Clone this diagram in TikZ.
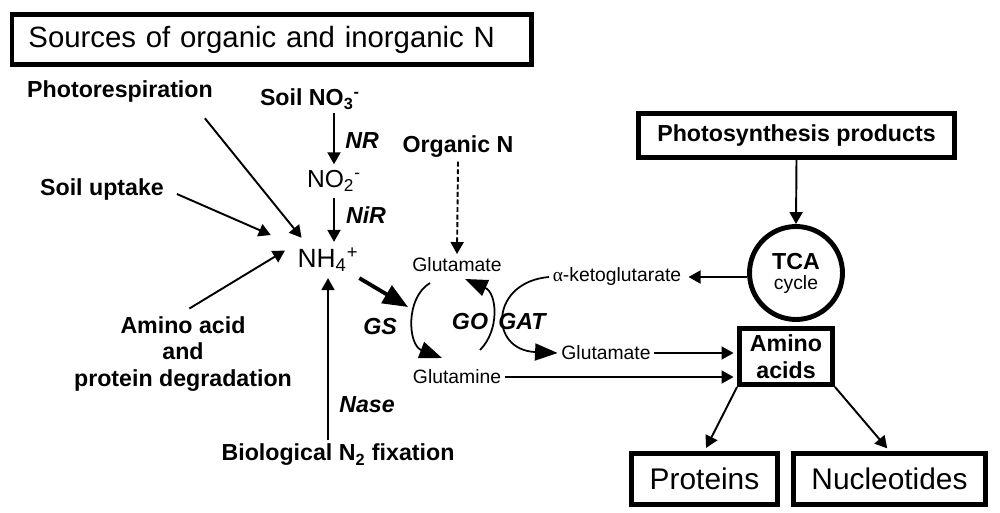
\documentclass[tikz,border=0pt]{standalone}
\usepackage{fontspec}
\setmainfont{Liberation Sans}
\newfontfamily\greekfont{Liberation Serif}
\usetikzlibrary{arrows.meta}

\begin{document}
\begin{tikzpicture}[x=0.02cm,y=-0.02cm,
    lbl/.style={font=\fontsize{13.2}{15.3}\selectfont\bfseries,inner sep=2pt},
    enz/.style={font=\fontsize{13.2}{15.3}\selectfont\bfseries\itshape,inner sep=2pt},
    met/.style={font=\fontsize{11}{13}\selectfont,inner sep=2pt},
    box/.style={draw,line width=2.8pt,inner sep=2pt},
    arr/.style={line width=1.1pt,-{Triangle[length=0.24cm,width=0.26cm]}},
    bigarr/.style={line width=1pt,-{Triangle[length=0.45cm,width=0.34cm]}}]
        \useasboundingbox (0,0) rectangle (1000,513);
        %% Sources
        \node[box,anchor=west,text width=9.74cm,inner xsep=0.33cm,minimum height=1.0cm,align=left,font=\fontsize{16.7}{20}\selectfont] (sources) at (9.5,39.5) {Sources of organic and inorganic N};
        \node[lbl] (photoresp) at (120,92) {Photorespiration};
        \node[lbl] (soilno3) at (310,99) {Soil NO\textsubscript{3}\textsuperscript{-}};
        \node[lbl] (soilup) at (102,190) {Soil uptake};
        \node[lbl,align=center] (aadeg) at (183,354) {Amino acid\\and\\protein degradation};
        \node[lbl] (bio) at (338,455) {Biological N\textsubscript{2} fixation};
        \node[lbl] (orgn) at (458,147) {Organic N};
        %% inorganic N
        \node[font=\fontsize{14}{16}\selectfont] (no2) at (334,181) {NO\textsubscript{2}\textsuperscript{-}};
        \node[font=\fontsize{15}{17}\selectfont] (nh4) at (328,260) {NH\textsubscript{4}\textsuperscript{+}};
        \node[enz] (nr) at (362,141) {NR};
        \node[enz] (nir) at (366,215) {NiR};
        \node[enz] (nase) at (367,405) {Nase};
        %% GS/GOGAT
        \node[met] (glu1) at (457,265) {Glutamate};
        \node[met] (gln) at (457,377) {Glutamine};
        \node[enz] (gs) at (380,327) {GS};
        \node[enz] (go) at (470,322) {GO};
        \node[enz] (gat) at (522,322) {GAT};
        \node[met] (akg) at (617,277) {{\greekfont α}-ketoglutarate};
        \node[met] (glu2) at (606,353) {Glutamate};
        \coordinate (gsin) at (408,307);
        \coordinate (gs1) at (430,283);
        \coordinate (gs2) at (442,358);
        \coordinate (go1) at (480,350);
        \coordinate (go2) at (465,279);
        %% carbon side
        \node[box,lbl,minimum width=6.32cm,minimum height=0.88cm] (photosyn) at (796.5,135.5) {Photosynthesis products};
        \node[box,circle,minimum size=1.86cm,inner sep=0pt,align=center,font=\fontsize{11}{11.3}\selectfont] (tca) at (796,273) {{\fontsize{13.2}{11.3}\selectfont\bfseries TCA}\\cycle};
        \node[box,lbl,align=center,minimum width=1.86cm,minimum height=1.12cm] (aa) at (786,356.5) {Amino\\acids};
        \node[box,minimum width=2.92cm,minimum height=1.02cm,font=\fontsize{17}{20}\selectfont] (prot) at (704.5,479) {Proteins};
        \node[box,minimum width=3.84cm,minimum height=1.02cm,font=\fontsize{17}{20}\selectfont] (nuc) at (889.5,479) {Nucleotides};
        %% arrows into NH4+
        \draw[arr,shorten <=0.3cm,shorten >=3pt] (photoresp.-11) -- (nh4.142);
        \draw[arr,shorten <=0.2cm,shorten >=0.45cm] (soilup.east) -- (nh4);
        \draw[arr,shorten <=0.15cm,shorten >=0.15cm] (aadeg.north) -- (nh4.160);
        \draw[arr] (no2.south |- soilno3.south) -- (no2.north);
        \draw[arr] (no2.south) -- (no2.south |- nh4.north);
        \draw[arr] (nh4.south |- bio.north) -- (nh4.south);
        \draw[arr,dash pattern=on 2.8pt off 1.5pt] (orgn.south) -- (glu1.north);
        %% cycle
        \draw[line width=2.2pt,-{Triangle[length=0.5cm,width=0.4cm]}] (nh4.-30) -- (gsin);
        \draw[bigarr] (gs1) .. controls (405,298) and (408,345) .. (gs2);
        \draw[bigarr] (go1) .. controls (500,330) and (497,293) .. (go2);
        \draw[bigarr] (akg.west) .. controls (490,282) and (488,350) .. (glu2.west);
        %% to amino acids
        \draw[arr] (photosyn.south) -- (tca.north);
        \draw[arr,shorten >=2pt] (tca.west |- akg) -- (akg.east);
        \draw[arr,shorten >=2pt] (glu2.east) -- (glu2.east -| aa.west);
        \draw[arr,shorten >=2pt] (gln.east) -- (gln.east -| aa.west);
        \draw[arr,shorten >=2pt] (aa.south west) -- (prot.north);
        \draw[arr,shorten >=2pt] (aa.south east) -- (nuc.north);
    \end{tikzpicture}
\end{document}
